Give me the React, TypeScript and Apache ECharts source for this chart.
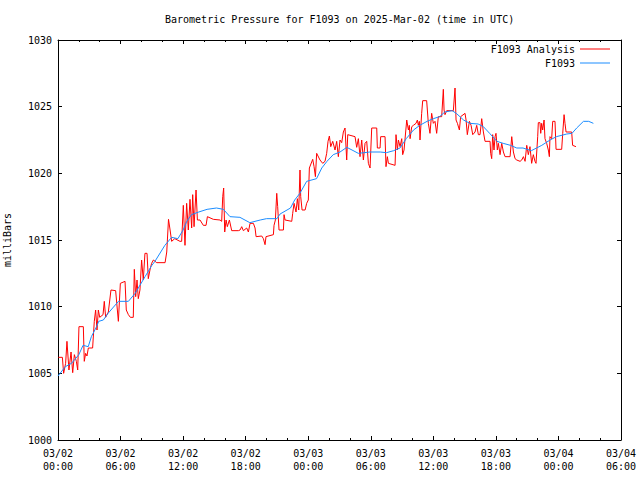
import React, { useEffect, useRef } from "react";
import * as echarts from "echarts";

const FONT = '"DejaVu Sans Mono", "Liberation Mono", monospace';

const titleText = "Barometric Pressure for F1093 on 2025-Mar-02 (time in UTC)";
const yAxisName = "milliBars";
const seriesNames = ["F1093 Analysis", "F1093"];

// x tick labels, one per 6 hours starting 2025-03-02 00:00 UTC
const xTickLabels = [
  "03/02\n00:00", "03/02\n06:00", "03/02\n12:00", "03/02\n18:00",
  "03/03\n00:00", "03/03\n06:00", "03/03\n12:00", "03/03\n18:00",
  "03/04\n00:00", "03/04\n06:00",
];

// Analysis series: hours since 03/02 00:00 and pressure (mb)
const redHours = [
  0.03, 0.42, 0.54, 0.73, 0.86, 1.05, 1.25, 1.41, 1.57, 1.76, 1.89, 2.01, 2.43, 2.52, 2.65, 2.78, 2.91, 3.32,
  3.48, 3.61, 3.74, 3.87, 4.0, 4.32, 4.44, 4.57, 4.83, 5.08, 5.53, 5.79, 5.98, 6.43, 6.55, 6.75, 6.94, 7.22,
  7.32, 7.45, 7.58, 7.7, 7.86, 8.02, 8.18, 8.34, 8.54, 8.66, 8.82, 8.98, 9.15, 9.47, 10.27, 10.43, 10.6, 10.75,
  10.9, 11.2, 11.7, 11.86, 12.02, 12.18, 12.34, 12.5, 12.66, 12.82, 12.92, 13.05, 13.24, 13.37, 13.62, 13.94,
  14.2, 14.33, 14.9, 15.54, 15.7, 15.8, 15.89, 15.99, 16.12, 16.24, 16.44, 16.66, 17.3, 17.46, 17.62, 17.78,
  18.1, 18.26, 18.42, 18.74, 18.9, 19.0, 19.54, 19.7, 19.86, 19.95, 20.66, 20.72, 20.85, 20.98, 21.07, 21.2,
  21.62, 21.68, 21.78, 22.42, 22.51, 22.64, 22.83, 22.96, 23.09, 23.21, 23.28, 23.41, 23.7, 23.85, 24.01, 24.11,
  24.43, 24.56, 24.69, 24.81, 25.13, 25.39, 25.61, 25.77, 25.9, 26.03, 26.16, 26.35, 26.57, 26.73, 26.89, 27.05,
  27.21, 27.37, 27.53, 27.69, 27.79, 28.49, 28.65, 28.81, 28.97, 29.13, 29.29, 29.45, 29.61, 29.77, 29.93, 30.09,
  30.57, 30.63, 30.89, 30.95, 31.37, 31.46, 31.59, 31.69, 32.33, 32.42, 32.55, 32.65, 32.81, 32.97, 33.06, 33.19,
  33.45, 33.61, 33.7, 33.77, 33.93, 34.09, 34.34, 34.47, 34.56, 34.66, 34.72, 34.88, 34.98, 35.36, 35.52, 35.68,
  35.84, 36.0, 36.16, 36.32, 36.48, 36.8, 36.96, 37.03, 37.12, 37.28, 37.92, 38.08, 38.18, 38.31, 38.5, 38.62,
  39.04, 39.14, 39.26, 39.46, 39.62, 39.78, 40.0, 40.16, 40.32, 40.48, 40.64, 40.8, 40.96, 41.44, 41.5, 41.6,
  41.69, 41.82, 41.92, 42.01, 42.14, 42.24, 42.4, 42.56, 42.72, 42.88, 43.36, 43.52, 43.68, 43.84, 44.0, 44.32,
  44.48, 44.64, 44.8, 44.96, 45.11, 45.27, 45.43, 45.59, 45.75, 45.85, 46.01, 46.07, 46.23, 46.3, 46.39, 46.49,
  46.62, 46.71, 46.87, 47.03, 47.13, 47.19, 47.35, 47.45, 47.67, 47.77, 48.31, 48.41, 48.54, 48.63, 48.73, 49.27,
  49.36, 49.68,
];
const redValues = [
  1006.2, 1006.2, 1005.0, 1005.75, 1007.4, 1005.25, 1006.6, 1005.05, 1006.4, 1005.9, 1005.25, 1008.5, 1008.5, 1005.9, 1006.5, 1006.3, 1006.9, 1006.9,
  1008.9, 1009.75, 1008.25, 1009.75, 1009.2, 1009.4, 1010.4, 1009.2, 1009.6, 1011.25, 1011.2, 1008.9, 1011.75, 1011.9, 1009.75, 1009.4, 1009.2, 1009.2,
  1012.8, 1010.75, 1012.0, 1010.6, 1011.25, 1013.5, 1012.0, 1014.0, 1014.0, 1012.1, 1012.75, 1013.25, 1013.5, 1013.3, 1013.3, 1014.1, 1016.55, 1015.75,
  1014.9, 1015.1, 1014.9, 1014.9, 1017.6, 1014.6, 1017.75, 1015.75, 1018.05, 1015.9, 1018.4, 1016.0, 1018.75, 1016.5, 1016.5, 1016.1,
  1016.1, 1016.75, 1016.55, 1016.5, 1016.4, 1018.25, 1018.9, 1015.6, 1016.5, 1016.0, 1016.5, 1015.7, 1015.7, 1015.75, 1016.0, 1015.7,
  1015.9, 1015.6, 1016.25, 1016.25, 1015.9, 1015.25, 1015.3, 1015.1, 1014.65, 1015.25, 1015.4, 1016.1, 1016.5, 1018.5, 1017.5, 1015.75,
  1015.75, 1016.9, 1016.5, 1016.4, 1017.0, 1017.75, 1017.1, 1018.1, 1017.25, 1020.25, 1018.25, 1017.25, 1017.25, 1017.75, 1018.0, 1020.4,
  1021.05, 1020.5, 1019.75, 1021.5, 1021.0, 1020.75, 1020.9, 1021.5, 1022.4, 1022.8, 1022.0, 1022.4, 1021.75, 1022.4, 1021.25, 1022.5,
  1022.3, 1023.1, 1023.4, 1021.0, 1022.9, 1022.75, 1021.95, 1022.6, 1021.25, 1022.5, 1021.0, 1022.25, 1022.4, 1020.75, 1020.4, 1023.4,
  1023.4, 1021.9, 1021.9, 1022.75, 1022.75, 1020.5, 1021.25, 1020.75, 1020.6, 1022.9, 1021.75, 1022.5, 1022.0, 1022.6, 1021.4, 1021.75,
  1024.0, 1023.25, 1023.6, 1022.6, 1023.5, 1023.6, 1023.75, 1024.0, 1023.6, 1023.9, 1022.5, 1024.5, 1025.45, 1025.45, 1023.75, 1023.0,
  1024.5, 1023.75, 1023.9, 1023.0, 1024.25, 1024.25, 1026.3, 1024.75, 1024.4, 1024.7, 1024.7, 1026.4, 1024.0, 1023.75, 1023.25, 1024.25,
  1024.5, 1024.0, 1022.9, 1023.9, 1023.6, 1022.9, 1023.1, 1023.6, 1022.9, 1022.9, 1024.1, 1023.1, 1022.4, 1022.4, 1021.5, 1021.1,
  1022.9, 1021.75, 1022.75, 1023.0, 1021.75, 1022.25, 1021.4, 1022.25, 1021.6, 1021.25, 1021.25, 1022.75, 1021.6, 1021.1, 1021.0, 1020.9,
  1021.0, 1021.25, 1020.9, 1022.1, 1021.4, 1022.0, 1020.75, 1021.4, 1020.9, 1020.75, 1022.75, 1023.8, 1023.8, 1023.0, 1023.75, 1023.25,
  1024.0, 1022.6, 1022.25, 1021.75, 1021.25, 1022.75, 1022.6, 1023.9, 1023.9, 1021.8, 1021.8, 1023.0, 1024.4, 1023.75, 1023.1, 1023.1,
  1022.1, 1022.0,
];

// Observed series
const blueHours = [
  0, 0.7, 1.3, 2.0, 2.4, 2.9, 3.2, 3.7, 3.9, 4.35, 4.8, 5.8, 6.75, 7.4, 8.35, 9.0, 9.3, 10.25, 10.9, 11.5,
  12.0, 12.35, 12.8, 13.5, 14.3, 15.2, 15.86, 16.5, 17.45, 18.4, 19.4, 20.0, 21.0, 21.3, 22.3, 22.7, 23.2,
  23.85, 24.8, 25.3, 25.8, 26.4, 27.05, 27.7, 28.2, 28.8, 29.9, 30.9, 31.5, 32.2, 32.8, 33.4, 34.1, 34.7,
  35.4, 36.0, 36.6, 37.1, 37.8, 38.2, 38.9, 39.5, 40.3, 40.8, 41.4, 42.1, 42.7, 43.4, 44.0, 44.6, 45.4,
  45.9, 46.4, 47.2, 47.8, 48.8, 49.3, 49.75, 50.4, 50.9, 51.35,
];
const blueValues = [
  1004.8, 1005.5, 1005.75, 1006.4, 1007.1, 1007.0, 1007.75, 1008.5, 1008.9, 1009.0, 1009.5, 1010.4, 1010.4, 1011.0, 1012.25, 1013.1, 1013.4, 1014.6, 1015.2, 1015.1,
  1015.75, 1016.4, 1016.9, 1017.1, 1017.3, 1017.4, 1017.3, 1016.75, 1016.7, 1016.3, 1016.5, 1016.6, 1016.6, 1016.95, 1017.4, 1018.0, 1018.5,
  1019.4, 1019.6, 1020.4, 1020.9, 1021.4, 1021.6, 1021.95, 1021.75, 1021.5, 1021.6, 1021.6, 1021.55, 1021.7, 1021.9, 1022.6, 1023.25, 1023.6,
  1023.9, 1024.1, 1024.25, 1024.6, 1024.7, 1024.5, 1024.0, 1023.75, 1023.7, 1023.5, 1023.0, 1022.4, 1022.25, 1022.1, 1021.9, 1021.9, 1021.7,
  1021.9, 1022.1, 1022.5, 1022.75, 1022.95, 1023.0, 1023.4, 1023.9, 1023.9, 1023.75,
];

export default function App() {
  const ref = useRef<HTMLDivElement>(null);
  useEffect(() => {
    if (!ref.current) return;
    const chart = echarts.init(ref.current, undefined, { renderer: "svg" });
    const txt = { fontFamily: FONT, fontSize: 10, color: "#000" };
    const axisLine = { show: true, onZero: false, lineStyle: { color: "#000", width: 1 } };
    const xCommon = {
      type: "value" as const,
      min: 0,
      max: 54,
      interval: 6,
      splitLine: { show: false },
      axisLine,
      axisTick: { inside: true, length: 4, lineStyle: { color: "#000" } },
      minorTick: { show: true, splitNumber: 3, length: 2, lineStyle: { color: "#000" } },
    };
    const yCommon = {
      type: "value" as const,
      min: 1000,
      max: 1030,
      interval: 5,
      splitLine: { show: false },
      axisLine,
      axisTick: { inside: true, length: 4, lineStyle: { color: "#000" } },
    };
    chart.setOption({
      animation: false,
      backgroundColor: "#fff",
      title: {
        text: titleText,
        left: 165,
        top: 13,
        padding: 0,
        textStyle: { ...txt, fontWeight: "normal", lineHeight: 12 },
      },
      legend: [
        {
          data: [seriesNames[0]],
          right: 30,
          top: 43,
          padding: 0,
          align: "right",
          icon: "rect",
          itemWidth: 30,
          itemHeight: 1,
          textStyle: { ...txt, lineHeight: 12 },
        },
        {
          data: [seriesNames[1]],
          right: 30,
          top: 57,
          padding: 0,
          align: "right",
          icon: "rect",
          itemWidth: 30,
          itemHeight: 1,
          textStyle: { ...txt, lineHeight: 12 },
        },
      ],
      grid: { left: 58, right: 19, top: 40, bottom: 40, containLabel: false, outerBoundsMode: "none" },
      xAxis: [
        {
          ...xCommon,
          position: "bottom",
          axisLabel: {
            ...txt,
            margin: 7,
            lineHeight: 13,
            showMinLabel: true,
            showMaxLabel: true,
            formatter: (v: number) => xTickLabels[Math.round(v / 6)] ?? "",
          },
        },
        { ...xCommon, position: "top", axisLabel: { show: false } },
      ],
      yAxis: [
        {
          ...yCommon,
          position: "left",
          name: yAxisName,
          nameLocation: "middle",
          nameRotate: 90,
          nameGap: 46,
          nameTextStyle: txt,
          axisLabel: { ...txt, margin: 6, formatter: (v: number) => String(v) },
        },
        { ...yCommon, position: "right", axisLabel: { show: false } },
      ],
      series: [
        {
          name: seriesNames[0],
          type: "line",
          showSymbol: false,
          symbol: "none",
          color: "#ff0000",
          lineStyle: { color: "#ff0000", width: 1 },
          data: redHours.map((h, i) => [h, redValues[i]]),
        },
        {
          name: seriesNames[1],
          type: "line",
          showSymbol: false,
          symbol: "none",
          color: "#1a8cff",
          lineStyle: { color: "#1a8cff", width: 1 },
          data: blueHours.map((h, i) => [h, blueValues[i]]),
        },
      ],
    });
    return () => chart.dispose();
  }, []);
  return (
    <div
      ref={ref}
      style={{ position: "fixed", left: 0, top: 0, width: 640, height: 480, background: "#fff" }}
    />
  );
}
